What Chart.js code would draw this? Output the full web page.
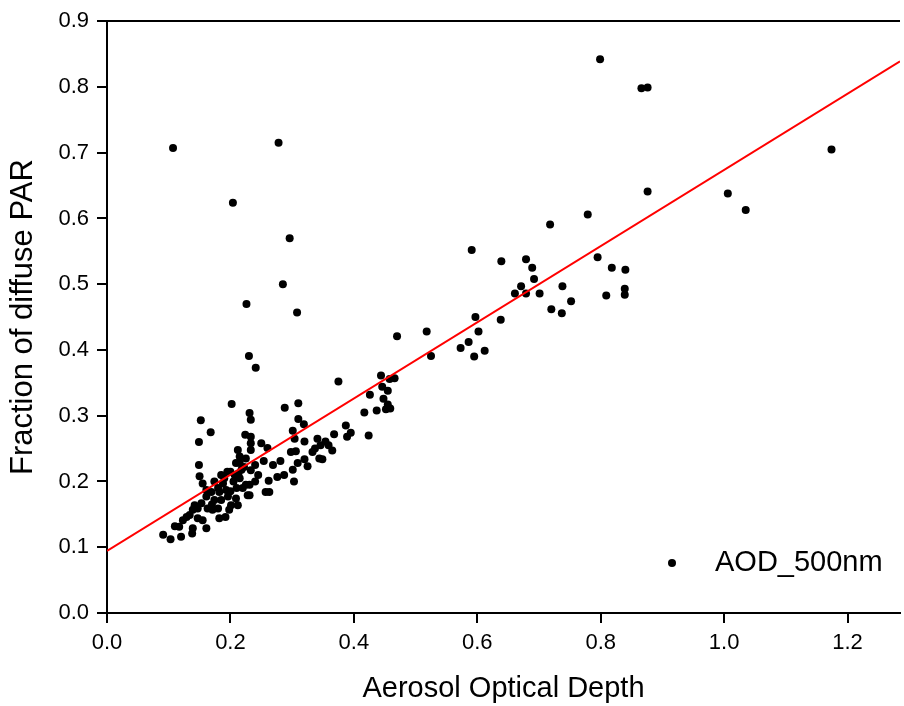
<!DOCTYPE html>
<html lang="en">
<head>
    <meta charset="UTF-8">
    <title>Fraction of diffuse PAR vs AOD</title>
    <script src="https://cdn.jsdelivr.net/npm/chart.js"></script>
    <style>
        body { margin: 0; background: #fff; }
        #wrap { width: 904px; height: 706px; }
    </style>
</head>
<body>
    <div id="wrap">
        <canvas id="scatterChart"></canvas>
    </div>
<script>
    // AOD at 500nm (x) and fraction of diffuse PAR (y)
    var aodValues = [
        0.107, 0.278, 0.204, 0.296, 0.285, 0.226, 0.308, 0.230, 0.241, 0.375, 0.310,
        0.799, 0.866, 0.876, 1.174, 0.876, 1.006, 1.035,
        0.591, 0.718, 0.779, 0.639, 0.679, 0.689, 0.692, 0.671, 0.661, 0.679, 0.701, 0.795,
        0.818, 0.840, 0.738, 0.752, 0.720, 0.737, 0.809, 0.839, 0.839, 0.597, 0.638, 0.602,
        0.586, 0.573, 0.612, 0.595,
        0.470, 0.518, 0.525, 0.444, 0.458, 0.466, 0.446, 0.455, 0.426, 0.448, 0.455, 0.452,
        0.459, 0.437, 0.417, 0.387, 0.395, 0.389, 0.424,
        0.288, 0.310, 0.319, 0.301, 0.304, 0.320, 0.341, 0.354, 0.346, 0.359, 0.368, 0.365,
        0.333, 0.337, 0.344, 0.349, 0.298, 0.306, 0.320, 0.309, 0.301, 0.325, 0.250, 0.260,
        0.254, 0.269, 0.281, 0.276, 0.287, 0.262, 0.303, 0.257, 0.263, 0.231, 0.233, 0.233,
        0.233, 0.233, 0.233, 0.231, 0.231,
        0.168, 0.149, 0.224, 0.212, 0.215, 0.209, 0.149, 0.150, 0.200, 0.207, 0.213, 0.218,
        0.222, 0.225, 0.228, 0.155, 0.161, 0.174, 0.188, 0.193, 0.182, 0.196, 0.185, 0.209,
        0.212, 0.201, 0.198, 0.169, 0.161, 0.174, 0.142, 0.147, 0.139, 0.134, 0.153, 0.163,
        0.171, 0.180, 0.182, 0.192, 0.155, 0.147, 0.129, 0.123, 0.139, 0.138, 0.161, 0.117,
        0.110, 0.120, 0.091, 0.103, 0.202, 0.152,
        0.180, 0.190, 0.205, 0.215, 0.220, 0.170, 0.200, 0.210, 0.195, 0.185, 0.215, 0.225,
        0.240, 0.245, 0.240
    ];
    var diffuseValues = [
        0.707, 0.715, 0.624, 0.570, 0.500, 0.470, 0.457, 0.391, 0.373, 0.352, 0.319,
        0.842, 0.798, 0.799, 0.705, 0.641, 0.638, 0.613,
        0.552, 0.591, 0.606, 0.535, 0.538, 0.525, 0.508, 0.497, 0.486, 0.486, 0.486, 0.541,
        0.525, 0.522, 0.497, 0.474, 0.462, 0.456, 0.483, 0.493, 0.484, 0.450, 0.446, 0.428,
        0.412, 0.403, 0.399, 0.390,
        0.421, 0.428, 0.391, 0.361, 0.356, 0.357, 0.344, 0.338, 0.332, 0.326, 0.317, 0.310,
        0.311, 0.308, 0.305, 0.285, 0.274, 0.268, 0.270,
        0.312, 0.295, 0.287, 0.277, 0.265, 0.261, 0.265, 0.261, 0.255, 0.255, 0.272, 0.247,
        0.245, 0.250, 0.235, 0.234, 0.245, 0.246, 0.234, 0.228, 0.218, 0.223, 0.258, 0.251,
        0.231, 0.225, 0.231, 0.207, 0.210, 0.201, 0.200, 0.184, 0.184, 0.304, 0.294, 0.268,
        0.258, 0.248, 0.217, 0.195, 0.179,
        0.275, 0.260, 0.271, 0.248, 0.238, 0.228, 0.225, 0.208, 0.215, 0.210, 0.212, 0.218,
        0.222, 0.195, 0.179, 0.197, 0.187, 0.200, 0.197, 0.187, 0.184, 0.177, 0.172, 0.174,
        0.164, 0.164, 0.157, 0.184, 0.177, 0.172, 0.164, 0.159, 0.157, 0.149, 0.167, 0.159,
        0.157, 0.159, 0.144, 0.146, 0.141, 0.144, 0.146, 0.141, 0.129, 0.121, 0.129, 0.131,
        0.132, 0.116, 0.119, 0.112, 0.318, 0.293,
        0.190, 0.205, 0.200, 0.205, 0.190, 0.165, 0.185, 0.190, 0.215, 0.210, 0.228, 0.235,
        0.225, 0.210, 0.200
    ];

    // linear fit, end points at the edges of the plot
    var fitX = [0, 1.285];
    var fitY = [0.0945, 0.839];

    var xTicks = [0, 0.2, 0.4, 0.6, 0.8, 1.0, 1.2];
    var yTicks = [0, 0.1, 0.2, 0.3, 0.4, 0.5, 0.6, 0.7, 0.8, 0.9];

    var seriesLabel = 'AOD_500nm';
    var xTitle = 'Aerosol Optical Depth';
    var yTitle = 'Fraction of diffuse PAR';

    var fontFamily = "'Liberation Sans', Arial, sans-serif";

    // legend sits inside the plot, bottom right
    var insideLegend = {
        id: 'insideLegend',
        afterDraw: function (chart) {
            var ctx = chart.ctx;
            var area = chart.chartArea;
            var x = area.right - 228;
            var y = area.bottom - 50;
            ctx.save();
            ctx.fillStyle = '#000';
            ctx.beginPath();
            ctx.arc(x, y, 4, 0, Math.PI * 2);
            ctx.fill();
            ctx.font = '29px ' + fontFamily;
            ctx.textBaseline = 'middle';
            ctx.textAlign = 'left';
            ctx.fillText(chart.data.datasets[0].label, x + 43, y);
            ctx.restore();
        }
    };

    document.addEventListener('DOMContentLoaded', function () {
        var ctx = document.getElementById('scatterChart').getContext('2d');

        new Chart(ctx, {
            type: 'scatter',
            data: {
                datasets: [{
                    label: seriesLabel,
                    data: aodValues.map(function (x, i) { return {x: x, y: diffuseValues[i]}; }),
                    backgroundColor: '#000',
                    borderWidth: 0,
                    pointRadius: 4,
                    pointHoverRadius: 4,
                    order: 1
                }, {
                    type: 'line',
                    label: 'fit',
                    data: fitX.map(function (x, i) { return {x: x, y: fitY[i]}; }),
                    borderColor: '#ff0000',
                    borderWidth: 2,
                    pointRadius: 0,
                    fill: false,
                    order: 0
                }]
            },
            options: {
                responsive: true,
                maintainAspectRatio: false,
                animation: false,
                layout: { padding: { top: 21, left: 0, right: 0, bottom: 0 } },
                scales: {
                    x: {
                        type: 'linear',
                        min: 0,
                        max: 1.285,
                        ticks: {
                            color: '#000',
                            padding: 7,
                            autoSkip: false,
                            font: { family: fontFamily, size: 22 },
                            callback: function (v) { return v.toFixed(1); }
                        },
                        afterBuildTicks: function (scale) {
                            scale.ticks = xTicks.map(function (v) { return {value: v}; });
                        },
                        afterFit: function (scale) { scale.height = 93; },
                        grid: {
                            drawOnChartArea: false,
                            drawTicks: true,
                            tickLength: 10,
                            tickColor: '#000',
                            lineWidth: 2
                        },
                        border: { display: true, color: '#000', width: 2 },
                        title: {
                            display: true,
                            text: xTitle,
                            color: '#000',
                            padding: { top: 0, bottom: 0 },
                            font: { family: fontFamily, size: 29 }
                        }
                    },
                    y: {
                        min: 0,
                        max: 0.9,
                        ticks: {
                            color: '#000',
                            padding: 8,
                            autoSkip: false,
                            font: { family: fontFamily, size: 22 },
                            callback: function (v) { return v.toFixed(1); }
                        },
                        afterBuildTicks: function (scale) {
                            scale.ticks = yTicks.map(function (v) { return {value: v}; });
                        },
                        afterFit: function (scale) { scale.width = 107; },
                        grid: {
                            color: function (c) {
                                return (c.tick && Math.abs(c.tick.value - 0.9) < 1e-6) ? '#000' : 'rgba(0,0,0,0)';
                            },
                            drawTicks: true,
                            tickLength: 10,
                            tickColor: '#000',
                            lineWidth: 2
                        },
                        border: { display: true, color: '#000', width: 2 },
                        title: {
                            display: true,
                            text: yTitle,
                            color: '#000',
                            padding: { top: 5, bottom: 0 },
                            font: { family: fontFamily, size: 31 }
                        }
                    }
                },
                plugins: {
                    legend: { display: false },
                    tooltip: { enabled: false }
                }
            },
            plugins: [insideLegend]
        });
    });
</script>
</body>
</html>
